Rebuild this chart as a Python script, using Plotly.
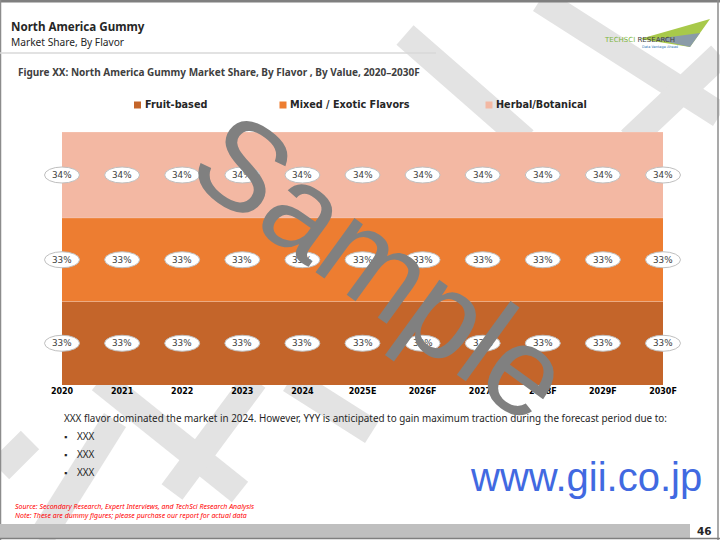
import plotly.graph_objects as go

# ---------------- data ----------------
years = ["2020", "2021", "2022", "2023", "2024", "2025E", "2026F", "2027F", "2028F", "2029F", "2030F"]
fruit_based = [33, 33, 33, 33, 33, 33, 33, 33, 33, 33, 33]
mixed_exotic = [33, 33, 33, 33, 33, 33, 33, 33, 33, 33, 33]
herbal_botanical = [34, 34, 34, 34, 34, 34, 34, 34, 34, 34, 34]
series_names = ["Fruit-based", "Mixed / Exotic Flavors", "Herbal/Botanical"]
series_values = [fruit_based, mixed_exotic, herbal_botanical]
series_colors = ["#C4652A", "#ED7D31", "#F3B8A3"]

W, H = 720, 540
L, R, T, B = 62, 57, 132, 155
PW, PH = W - L - R, H - T - B
YMAX = 100


def px(x):
    return (x - L) / PW


def py(y):
    return (H - B - y) / PH


fig = go.Figure()

# stacked areas
for name, vals, col in zip(series_names, series_values, series_colors):
    fig.add_trace(go.Scatter(
        x=years, y=vals, name=name, mode="lines", stackgroup="one",
        line=dict(width=0.6, color="rgba(255,255,255,0.35)"), fillcolor=col,
        showlegend=False, hoverinfo="skip"))

shapes = []
annotations = []

# data labels with ellipse backgrounds (positions from the category / value scales)
n = len(years)
cum = [0] * n
for vals in series_values:
    for i, v in enumerate(vals):
        mid = cum[i] + v / 2
        xp, yp = i / (n - 1), mid / YMAX
        shapes.append(dict(type="circle", xref="paper", yref="paper", xsizemode="pixel", ysizemode="pixel",
                           xanchor=xp, yanchor=yp, x0=-17.5, x1=17.5, y0=-8, y1=8,
                           fillcolor="white", line=dict(color="#BFBFBF", width=1), layer="above"))
        annotations.append(dict(x=xp, y=yp, xref="paper", yref="paper", text=f"{v}%", showarrow=False,
                                xanchor="center", yanchor="middle",
                                font=dict(family="DejaVu Sans", size=8.8, color="#404040")))
    cum = [c + v for c, v in zip(cum, vals)]

# light watermark strokes (behind chart)
wm = "#E3E3E3"
for (x0, y0, x1, y1) in [(405, 35, 525, 140), (540, 0, 720, 115), (720, 55, 630, 140),
                         (100, 380, 240, 492), (172, 492, 255, 380),
                         (290, 380, 372, 432), (40, 540, 115, 420), (0, 470, 30, 440)]:
    shapes.append(dict(type="line", xref="paper", yref="paper", x0=px(x0), y0=py(y0), x1=px(x1), y1=py(y1),
                       line=dict(color=wm, width=26), layer="below"))

# page frame
shapes += [
    dict(type="rect", xref="paper", yref="paper", x0=px(0), x1=px(720), y0=py(0), y1=py(2.5),
         fillcolor="#7F7F7F", line=dict(width=0)),
    dict(type="line", xref="paper", yref="paper", x0=px(0.5), x1=px(0.5), y0=py(0), y1=py(540),
         line=dict(color="#8C8C8C", width=1.5)),
    dict(type="line", xref="paper", yref="paper", x0=px(718), x1=px(718), y0=py(0), y1=py(540),
         line=dict(color="#8C8C8C", width=1.5)),
    dict(type="line", xref="paper", yref="paper", x0=px(0), x1=px(436), y0=py(53), y1=py(53),
         line=dict(color="#D9D9D9", width=1.5)),
    dict(type="rect", xref="paper", yref="paper", x0=px(0), x1=px(690), y0=py(524), y1=py(538),
         fillcolor="#BFBFBF", line=dict(width=0)),
    dict(type="line", xref="paper", yref="paper", x0=px(0), x1=px(720), y0=py(538.5), y1=py(538.5),
         line=dict(color="#7F7F7F", width=1.5)),
    # logo swoosh
    dict(type="path", xref="paper", yref="paper",
         path=f"M {px(640)},{py(39)} L {px(710)},{py(19)} L {px(700)},{py(33)} L {px(690)},{py(47)} Z",
         fillcolor="#A8C94A", line=dict(width=0)),
    dict(type="path", xref="paper", yref="paper",
         path=f"M {px(655)},{py(39)} L {px(700)},{py(33)} L {px(690)},{py(47)} Z",
         fillcolor="#8A9BA8", line=dict(width=0)),
]

# legend (manual, to match uneven spacing)
for name, col, mx in zip(series_names, series_colors, [137.5, 283, 489]):
    shapes.append(dict(type="rect", xref="paper", yref="paper", x0=px(mx - 3.5), x1=px(mx + 3.5),
                       y0=py(101.5), y1=py(108.5), fillcolor=col, line=dict(width=0)))
    annotations.append(dict(x=px(mx + 5), y=py(105), xref="paper", yref="paper", text=name, showarrow=False,
                            xanchor="left", yanchor="middle",
                            font=dict(family="DejaVu Sans", size=9.7, color="#262626", weight="bold")))


def txt(x, y, text, size, color="#262626", family="Noto Sans", weight="normal", style="normal",
        xanchor="left"):
    annotations.append(dict(x=px(x), y=py(y), xref="paper", yref="paper", text=text, showarrow=False,
                            xanchor=xanchor, yanchor="middle",
                            font=dict(family=family, size=size, color=color, weight=weight, style=style)))


txt(9, 27, "North America Gummy", 11.6, "#262626", weight="bold")
txt(9, 42, "Market Share, By Flavor", 10.2, "#262626")
txt(16, 72, "Figure XX: North America Gummy Market Share, By Flavor , By Value, 2020\u20132030F", 10,
    "#404040", weight="bold")
txt(602, 40, "<span style='color:#7DB53D'>TECHSCI</span> <span style='color:#404040'>RESEARCH</span>", 7,
    family="DejaVu Sans")
txt(640, 47, "Data Vantage Ahead", 3.5, "#2F75B5", family="DejaVu Sans")
txt(62, 418, "XXX flavor dominated the market in 2024. However, YYY is anticipated to gain maximum traction "
    "during the forecast period due to:", 9.9, "#262626")
for yy in [436, 454, 472]:
    txt(62, yy, "\u25aa", 9, "#262626")
    txt(75, yy, "XXX", 9.9, "#262626")
txt(13, 507, "Source: Secondary Research, Expert Interviews, and TechSci Research Analysis", 7, "#FF0000",
    style="italic")
txt(13, 515, "Note: These are dummy figures; please purchase our report for actual data", 7, "#FF0000",
    style="italic")
txt(704, 531, "46", 10.5, "#262626", family="DejaVu Sans", weight="bold", xanchor="center")
txt(586, 477, "www.gii.co.jp", 40, "#4169E1", family="Liberation Sans", xanchor="center")

# big "Sample" watermark
annotations.append(dict(x=px(382), y=py(266), xref="paper", yref="paper", text="Sample", showarrow=False,
                        xanchor="center", yanchor="middle",
                        textangle=36, font=dict(family="Liberation Sans", size=126, color="#808080")))

fig.update_layout(
    width=W, height=H, margin=dict(l=L, r=R, t=T, b=B),
    paper_bgcolor="white", plot_bgcolor="rgba(0,0,0,0)",
    showlegend=False,
    xaxis=dict(type="category", range=[0, n - 1], showgrid=False, zeroline=False, showline=False,
               ticks="", tickfont=dict(family="DejaVu Sans", size=8, color="#000000", weight="bold"),
               fixedrange=True),
    yaxis=dict(range=[0, YMAX], visible=False, fixedrange=True),
    shapes=shapes, annotations=annotations,
)

fig.write_html("out.html", config={"displayModeBar": False},
               post_script="document.body.style.margin='0';document.body.style.overflow='hidden';")
